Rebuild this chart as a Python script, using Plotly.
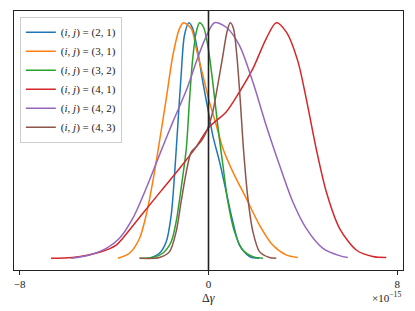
import plotly.graph_objects as go

# Data (x in units of 1e-15, normalized density)
labels = ["(2, 1)", "(3, 1)", "(3, 2)", "(4, 1)", "(4, 2)", "(4, 3)"]
colors = ["#1f77b4", "#ff7f0e", "#2ca02c", "#d62728", "#9467bd", "#8c564b"]

x_21 = [-2.50, -2.08, -1.79, -1.58, -1.44, -1.30, -1.16, -1.02, -0.83, -0.67, -0.45, -0.24, -0.03, 0.18, 0.47, 0.75, 1.03, 1.31, 1.74, 2.16]
y_21 = [0.0, 0.021, 0.070, 0.183, 0.353, 0.565, 0.777, 0.946, 1.0, 0.975, 0.875, 0.748, 0.636, 0.522, 0.409, 0.282, 0.155, 0.056, 0.007, 0.0]

x_31 = [-3.84, -3.35, -2.92, -2.64, -2.36, -2.08, -1.79, -1.51, -1.23, -1.06, -0.73, -0.52, -0.24, 0.04, 0.33, 0.61, 1.03, 1.60, 2.16, 2.72, 3.29, 3.78]
y_31 = [0.0, 0.021, 0.085, 0.183, 0.325, 0.494, 0.678, 0.861, 0.975, 1.0, 0.975, 0.890, 0.777, 0.664, 0.565, 0.466, 0.367, 0.254, 0.141, 0.056, 0.014, 0.003]

x_32 = [-2.92, -2.36, -1.94, -1.58, -1.37, -1.16, -0.94, -0.81, -0.67, -0.52, -0.38, -0.21, -0.03, 0.18, 0.39, 0.61, 0.82, 1.10, 1.45, 1.88, 2.31]
y_32 = [0.0, 0.003, 0.021, 0.070, 0.155, 0.297, 0.466, 0.664, 0.847, 0.960, 1.0, 0.981, 0.904, 0.748, 0.565, 0.395, 0.240, 0.113, 0.035, 0.007, 0.0]

x_41 = [-6.67, -5.76, -4.62, -3.91, -3.63, -2.78, -2.00, -1.23, -0.52, 0.04, 0.75, 1.31, 1.88, 2.44, 2.87, 3.30, 3.79, 4.14, 4.56, 4.99, 5.55, 6.26, 6.96, 7.53]
y_41 = [0.0, 0.003, 0.025, 0.056, 0.085, 0.191, 0.287, 0.381, 0.473, 0.558, 0.621, 0.706, 0.805, 0.932, 1.0, 0.960, 0.835, 0.678, 0.466, 0.282, 0.127, 0.035, 0.007, 0.003]

x_42 = [-5.82, -5.04, -4.33, -3.77, -3.21, -2.64, -2.08, -1.51, -0.94, -0.52, -0.17, 0.25, 0.75, 1.31, 1.88, 2.44, 3.01, 3.57, 4.14, 4.85, 5.55, 5.90]
y_42 = [0.0, 0.014, 0.042, 0.085, 0.169, 0.297, 0.438, 0.579, 0.713, 0.833, 0.925, 1.0, 0.981, 0.904, 0.748, 0.565, 0.395, 0.240, 0.127, 0.042, 0.011, 0.003]

x_43 = [-2.92, -2.08, -1.65, -1.37, -1.16, -0.94, -0.73, -0.52, -0.24, -0.03, 0.18, 0.39, 0.61, 0.78, 0.92, 1.06, 1.20, 1.34, 1.48, 1.67, 1.88, 2.16, 2.58, 2.87]
y_43 = [0.0, 0.003, 0.028, 0.113, 0.240, 0.367, 0.452, 0.473, 0.508, 0.551, 0.621, 0.734, 0.861, 0.960, 1.0, 0.975, 0.861, 0.678, 0.466, 0.254, 0.113, 0.028, 0.003, 0.0]

series_x = [x_21, x_31, x_32, x_41, x_42, x_43]
series_y = [y_21, y_31, y_32, y_41, y_42, y_43]

x_ticks = [-8, 0, 8]
x_tick_text = ["\u22128", "0", "8"]

SERIF = "Liberation Serif, DejaVu Serif, serif"

fig = go.Figure()
for lab, col, xs, ys in zip(labels, colors, series_x, series_y):
    fig.add_trace(go.Scatter(
        x=xs, y=ys, mode="lines",
        line=dict(color=col, width=1.5, shape="spline", smoothing=0.8),
        name="(<i>i</i>, <i>j</i>) = " + lab,
    ))

fig.add_shape(type="line", xref="x", yref="paper", x0=0, x1=0, y0=0, y1=1,
              line=dict(color="#222222", width=1.6), layer="above")

fig.update_layout(
    width=415, height=311,
    margin=dict(l=14, r=12, t=11, b=41),
    paper_bgcolor="white", plot_bgcolor="white",
    font=dict(family=SERIF, size=11, color="#222222"),
    showlegend=True,
    legend=dict(x=0.015, y=0.978, xanchor="left", yanchor="top",
                bgcolor="rgba(255,255,255,0.9)", bordercolor="#cccccc", borderwidth=1,
                font=dict(family=SERIF, size=11, color="#222222"),
                tracegroupgap=0, itemwidth=30),
    xaxis=dict(range=[-8.24, 8.24], tickvals=x_ticks, ticktext=x_tick_text,
               ticks="outside", ticklen=3.5, tickwidth=0.8, tickcolor="#222222",
               showgrid=False, zeroline=False, showline=True, linecolor="#222222",
               linewidth=1, mirror=True, tickfont=dict(family=SERIF, size=11)),
    yaxis=dict(range=[-0.05, 1.05], showticklabels=False, ticks="",
               showgrid=False, zeroline=False, showline=True, linecolor="#222222",
               linewidth=1, mirror=True),
)

fig.add_annotation(text="\u0394<i>\u03b3</i>", xref="paper", yref="paper",
                   x=0.5, y=-0.072, yanchor="top", showarrow=False,
                   font=dict(family=SERIF, size=12, color="#222222"))
fig.add_annotation(text="\u00d710<sup>\u221215</sup>", xref="paper", yref="paper",
                   x=1.0, y=-0.068, xanchor="right", yanchor="top", showarrow=False,
                   font=dict(family=SERIF, size=11, color="#222222"))

fig.write_html("out.html", config={"displayModeBar": False},
               post_script="document.body.style.margin='0px';")
